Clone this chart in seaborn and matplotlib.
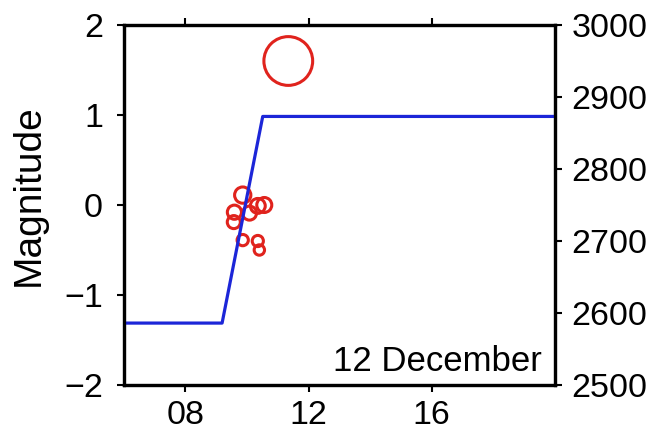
import numpy as np
import pandas as pd
import matplotlib
matplotlib.use("Agg")
import matplotlib.pyplot as plt
from matplotlib.ticker import FixedLocator, FuncFormatter
import seaborn as sns

# Earthquake events: origin time (hour of day) and magnitude
event_hours = [9.59, 9.57, 9.86, 10.08, 10.35, 10.56, 9.86, 10.35, 10.40, 11.34]
event_mags = [-0.08, -0.19, 0.11, -0.09, -0.01, 0.00, -0.39, -0.40, -0.50, 1.60]

# Level curve on the right axis (hour, value)
level_hours = [6.0, 9.19, 10.51, 20.0]
level_vals = [2586, 2586, 2873, 2873]

x_ticks = [8, 12, 16]
left_ticks = [-2, -1, 0, 1, 2]
right_ticks = [2500, 2600, 2700, 2800, 2900, 3000]
date_label = "12 December"

sns.set_style("ticks")
plt.rcParams["font.family"] = ["Liberation Sans", "DejaVu Sans"]
for key in ("text.color", "axes.labelcolor", "xtick.color", "ytick.color",
            "axes.edgecolor"):
    plt.rcParams[key] = "black"

RED = "#e0231d"
BLUE = "#1c26d8"
TICK_FS = 24.5

fig = plt.figure(figsize=(6.59, 4.34), dpi=100)
ax = fig.add_axes([0.188, 0.1129, 0.654, 0.8295])

events = pd.DataFrame({"hour": event_hours, "mag": event_mags})
# circle diameter grows with magnitude
diam_px = 15.0 * 10 ** (0.32 * events["mag"].to_numpy())
sizes = (diam_px * 0.72) ** 2
sns.scatterplot(data=events, x="hour", y="mag", ax=ax, s=sizes,
                facecolors="none", edgecolor=RED, color=RED,
                linewidth=2.2, legend=False)

ax.set_xlim(6, 20)
ax.set_ylim(-2, 2)
ax.xaxis.set_major_locator(FixedLocator(x_ticks))
ax.xaxis.set_major_formatter(FuncFormatter(lambda v, p: f"{int(round(v)):02d}"))
ax.yaxis.set_major_locator(FixedLocator(left_ticks))
ax.set_xlabel("")
ax.set_ylabel("Magnitude", fontsize=28)
ax.yaxis.set_label_coords(-0.178, 0.528)

for s in ax.spines.values():
    s.set_linewidth(2.3)
    s.set_color("black")

ax.tick_params(axis="x", which="both", direction="out", length=5, width=1.5,
               top=True, bottom=True, labelsize=TICK_FS, pad=6)
ax.tick_params(axis="y", which="both", direction="out", length=5, width=1.5,
               left=True, right=True, labelsize=TICK_FS, pad=10)

ax.text(0.969, 0.039, date_label, transform=ax.transAxes, ha="right",
        va="baseline", fontsize=25)

ax2 = ax.twinx()
levels = pd.DataFrame({"hour": level_hours, "value": level_vals})
sns.lineplot(data=levels, x="hour", y="value", ax=ax2, color=BLUE,
             linewidth=2.3, sort=False, estimator=None)
ax2.set_ylim(2500, 3000)
ax2.yaxis.set_major_locator(FixedLocator(right_ticks))
ax2.set_ylabel("")
ax2.set_xlabel("")
ax2.tick_params(axis="y", direction="out", length=5, width=1.5,
                right=True, left=False, labelsize=TICK_FS, pad=7)
for s in ax2.spines.values():
    s.set_linewidth(2.3)
    s.set_color("black")

fig.savefig("out.png", dpi=100)
